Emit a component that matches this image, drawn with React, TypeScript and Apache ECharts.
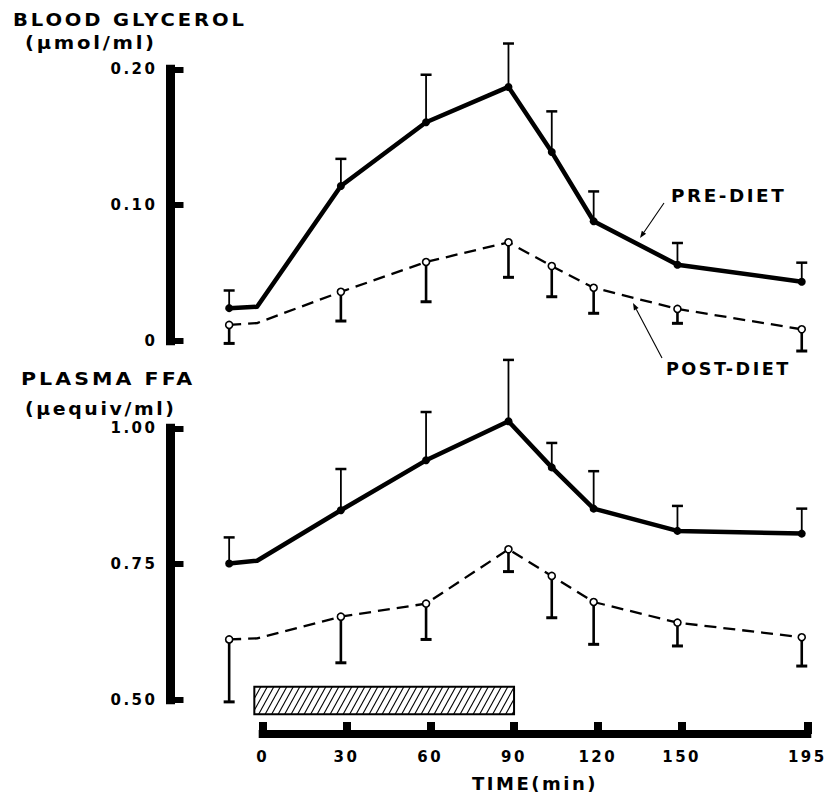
import React, { useEffect, useRef } from 'react';
import * as echarts from 'echarts';

// Sampling times (min); the second entry is the start-of-exercise vertex
const times = [-12, -2, 28, 58.5, 88, 103.5, 118.5, 148.5, 193];
const timeTicks = [0, 30, 60, 90, 120, 150, 195];
const exercise = [-3, 90];

// Blood glycerol (µmol/ml)
const glycerolPre = [0.024, 0.025, 0.114, 0.161, 0.187, 0.139, 0.088, 0.056, 0.0435];
const glycerolPreUpper = [0.037, null, 0.134, 0.196, 0.219, 0.169, 0.11, 0.072, 0.0575];
const glycerolPost = [0.0116, 0.013, 0.036, 0.058, 0.0725, 0.055, 0.039, 0.0234, 0.0084];
const glycerolPostLower = [-0.002, null, 0.0145, 0.0287, 0.0467, 0.0324, 0.0202, 0.0128, -0.0076];

// Plasma FFA (µequiv/ml)
const ffaPre = [0.751, 0.756, 0.849, 0.941, 1.013, 0.928, 0.852, 0.811, 0.806];
const ffaPreUpper = [0.799, null, 0.925, 1.03, 1.126, 0.973, 0.921, 0.857, 0.852];
const ffaPost = [0.611, 0.613, 0.653, 0.677, 0.777, 0.728, 0.68, 0.642, 0.615];
const ffaPostLower = [0.496, null, 0.568, 0.611, 0.736, 0.651, 0.602, 0.599, 0.562];

const FONT = '"DejaVu Sans", sans-serif';
const INK = '#000';

type Num = number | null;

function lineData(values: number[], errs: Num[]) {
  return times.map((t, i) => ({
    value: [t, values[i]],
    symbol: errs[i] == null ? 'none' : 'circle',
  }));
}

function errorBars(axis: number, means: number[], ends: Num[], stem: number, capW: number, capT: number) {
  const data: number[][] = [];
  times.forEach((t, i) => {
    const e = ends[i];
    if (e != null) data.push([t, means[i], e]);
  });
  return {
    type: 'custom',
    xAxisIndex: axis,
    yAxisIndex: axis,
    clip: false,
    silent: true,
    z: 1,
    encode: { x: 0, y: [1, 2] },
    data,
    renderItem: (_params: any, api: any) => {
      const p0 = api.coord([api.value(0), api.value(1)]);
      const p1 = api.coord([api.value(0), api.value(2)]);
      return {
        type: 'group',
        children: [
          { type: 'line', shape: { x1: p0[0], y1: p0[1], x2: p1[0], y2: p1[1] }, style: { stroke: INK, lineWidth: stem } },
          { type: 'line', shape: { x1: p1[0] - capW / 2, y1: p1[1], x2: p1[0] + capW / 2, y2: p1[1] }, style: { stroke: INK, lineWidth: capT } },
        ],
      };
    },
  };
}

function preLine(axis: number, values: number[], errs: Num[]) {
  return {
    type: 'line',
    xAxisIndex: axis,
    yAxisIndex: axis,
    clip: false,
    silent: true,
    z: 3,
    showAllSymbol: true,
    symbolSize: 8,
    itemStyle: { color: INK },
    lineStyle: { color: INK, width: 4.5, join: 'round' },
    data: lineData(values, errs),
  };
}

function postLine(axis: number, values: number[], errs: Num[]) {
  return {
    type: 'line',
    xAxisIndex: axis,
    yAxisIndex: axis,
    clip: false,
    silent: true,
    z: 3,
    showAllSymbol: true,
    symbolSize: 7,
    itemStyle: { color: '#fff', borderColor: INK, borderWidth: 1.6 },
    lineStyle: { color: INK, width: 2.3, type: [12, 7] },
    data: lineData(values, errs),
  };
}

// Leader line with a small arrowhead at (x2, y2)
function arrow(x1: number, y1: number, x2: number, y2: number) {
  const dx = x2 - x1;
  const dy = y2 - y1;
  const len = Math.hypot(dx, dy);
  const ux = dx / len;
  const uy = dy / len;
  const hl = 7;
  const hw = 2.6;
  const bx = x2 - ux * hl;
  const by = y2 - uy * hl;
  return [
    { type: 'line', shape: { x1, y1, x2: bx, y2: by }, style: { stroke: INK, lineWidth: 1.1 }, silent: true },
    {
      type: 'polygon',
      shape: { points: [[x2, y2], [bx - uy * hw, by + ux * hw], [bx + uy * hw, by - ux * hw]] },
      style: { fill: INK },
      silent: true,
    },
  ];
}

function label(text: string, x: number, y: number, size: number, scaleX = 1) {
  return {
    type: 'text',
    x,
    y,
    scaleX,
    silent: true,
    style: {
      text,
      fill: INK,
      font: `bold ${size}px ${FONT}`,
      textAlign: 'left',
      verticalAlign: 'middle',
    },
  };
}

const yLabel = (v: number) => (v === 0 ? '0' : v.toFixed(2));

function valueAxis(grid: number, min: number, max: number, interval: number) {
  return {
    type: 'value',
    gridIndex: grid,
    min,
    max,
    interval,
    axisLine: { show: true, onZero: false, lineStyle: { color: INK, width: 9, cap: 'square' } },
    axisTick: { show: true, inside: true, length: 13, lineStyle: { color: INK, width: 6 } },
    axisLabel: { margin: 13, color: INK, fontSize: 15, fontWeight: 'bold', fontFamily: FONT, formatter: yLabel },
    splitLine: { show: false },
  };
}

export default function App() {
  const ref = useRef<HTMLDivElement>(null);

  useEffect(() => {
    if (!ref.current) return;
    const chart = echarts.init(ref.current, null, { renderer: 'svg' });

    const option: any = {
      animation: false,
      backgroundColor: '#fff',
      grid: [
        { left: 170.5, top: 69.3, width: 650.8, height: 271.4 },
        { left: 170.5, top: 428.3, width: 650.8, height: 271.4 },
        { left: 262.7, top: 680, width: 544.6, height: 54 },
      ],
      xAxis: [
        { type: 'value', gridIndex: 0, min: -33, max: 200, show: false },
        { type: 'value', gridIndex: 1, min: -33, max: 200, show: false },
        {
          type: 'value',
          gridIndex: 2,
          min: 0,
          max: 195,
          axisLine: { show: true, onZero: false, lineStyle: { color: INK, width: 8, cap: 'square' } },
          axisTick: { show: true, inside: true, length: 12, customValues: timeTicks, lineStyle: { color: INK, width: 8 } },
          axisLabel: { margin: 15, color: INK, fontSize: 15, fontWeight: 'bold', fontFamily: FONT, customValues: timeTicks },
          splitLine: { show: false },
          name: 'TIME(min)',
          nameLocation: 'middle',
          nameGap: 40,
          nameTextStyle: { color: INK, fontSize: 18, fontWeight: 'bold', fontFamily: FONT },
        },
      ],
      yAxis: [
        valueAxis(0, 0, 0.2, 0.1),
        valueAxis(1, 0.5, 1.0, 0.25),
        { type: 'value', gridIndex: 2, min: 0, max: 1, show: false },
      ],
      series: [
        errorBars(0, glycerolPre, glycerolPreUpper, 1.8, 11, 2.5),
        errorBars(0, glycerolPost, glycerolPostLower, 2.6, 11, 3),
        errorBars(1, ffaPre, ffaPreUpper, 1.8, 11, 2.5),
        errorBars(1, ffaPost, ffaPostLower, 2.6, 11, 3),
        preLine(0, glycerolPre, glycerolPreUpper),
        postLine(0, glycerolPost, glycerolPostLower),
        preLine(1, ffaPre, ffaPreUpper),
        postLine(1, ffaPost, ffaPostLower),
        {
          // hatched bar marking the exercise period
          type: 'custom',
          xAxisIndex: 2,
          yAxisIndex: 2,
          clip: false,
          silent: true,
          data: [exercise],
          encode: { x: [0, 1] },
          renderItem: (_params: any, api: any) => {
            const a = api.coord([api.value(0), 0.876]);
            const b = api.coord([api.value(1), 0.365]);
            const L = a[0];
            const R = b[0];
            const T = a[1];
            const B = b[1];
            const H = B - T;
            const slant = H * 0.55;
            const step = 6.5;
            const hatch: any[] = [];
            for (let x0 = L - slant; x0 < R; x0 += step) {
              const u0 = Math.max(0, (L - x0) / slant);
              const u1 = Math.min(1, (R - x0) / slant);
              if (u1 <= u0) continue;
              hatch.push({
                type: 'line',
                shape: { x1: x0 + u0 * slant, y1: B - u0 * H, x2: x0 + u1 * slant, y2: B - u1 * H },
                style: { stroke: INK, lineWidth: 1.1 },
              });
            }
            return {
              type: 'group',
              children: [
                { type: 'rect', shape: { x: L, y: T, width: R - L, height: H }, style: { fill: '#fff', stroke: 'none' } },
                ...hatch,
                { type: 'rect', shape: { x: L, y: T, width: R - L, height: H }, style: { fill: 'none', stroke: INK, lineWidth: 2 } },
              ],
            };
          },
        },
      ],
      graphic: [
        label('BLOOD GLYCEROL', 13, 20, 17, 1.15),
        label('(µmol/ml)', 25, 43, 18, 1.09),
        label('PLASMA FFA', 21, 379, 17, 1.21),
        label('(µequiv/ml)', 25, 409, 18, 1.05),
        label('PRE-DIET', 671, 196, 18, 1.02),
        label('POST-DIET', 666, 368, 18, 0.98),
        ...arrow(664, 203, 640, 238),
        ...arrow(662, 358, 633, 303),
      ],
    };

    chart.setOption(option);
    return () => chart.dispose();
  }, []);

  return (
    <div
      ref={ref}
      style={{ position: 'absolute', left: 0, top: 0, width: 828, height: 799, letterSpacing: '2.5px', background: '#fff' }}
    />
  );
}
